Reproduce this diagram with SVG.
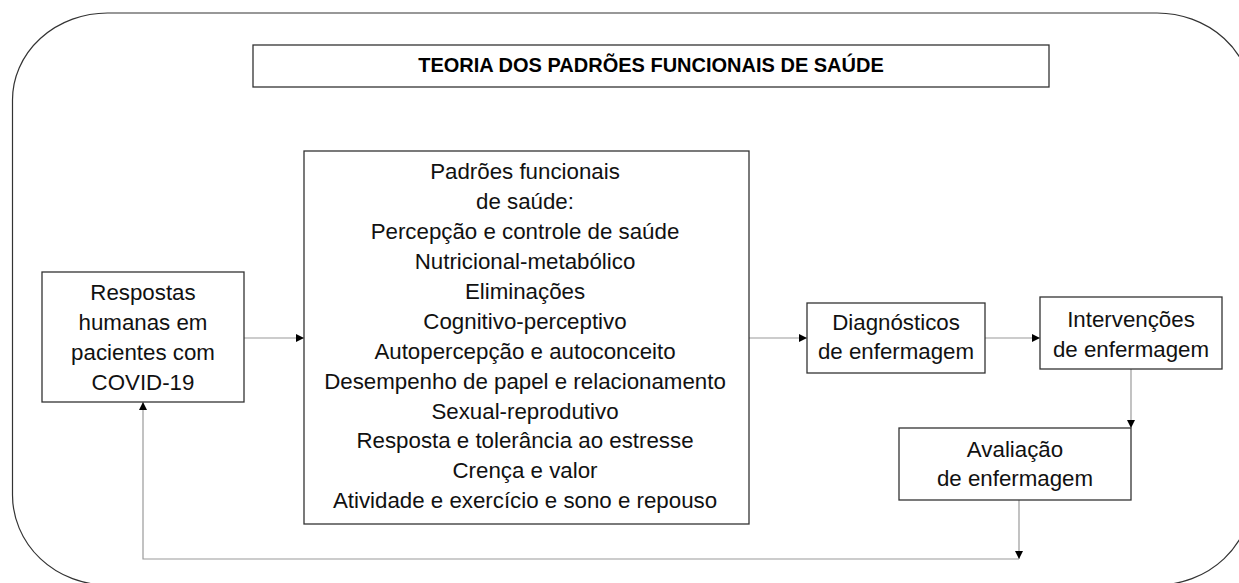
<svg xmlns="http://www.w3.org/2000/svg" width="1239" height="583" viewBox="0 0 1239 583">
<style>
.box{fill:#fff;stroke:#333;stroke-width:1.3}
.t{font-family:"Liberation Sans",Arial,sans-serif;font-size:22.3px;fill:#111;text-anchor:middle}
.title{font-family:"Liberation Sans",Arial,sans-serif;font-size:20px;font-weight:bold;fill:#000;text-anchor:middle}
.c{fill:none;stroke:#9a9a9a;stroke-width:1.2}
</style>
<defs>
<marker id="ah" viewBox="0 0 10 10" refX="10" refY="5" markerWidth="9" markerHeight="8" markerUnits="userSpaceOnUse" orient="auto">
<path d="M0,0 L10,5 L0,10 Z" fill="#000"/>
</marker>
</defs>
<rect width="1239" height="583" fill="#fff"/>
<g id="frame">
<path d="M12.5,100 A95,87 0 0 1 107.5,13 L1157,13 A95,87 0 0 1 1252,100 L1252,495 A95,90 0 0 1 1157,585 L107.5,585 A95,90 0 0 1 12.5,495 Z" fill="none" stroke="#333" stroke-width="1.2"/>
</g>
<g id="title">
<rect class="box" x="253" y="45" width="796" height="42"/>
<text class="title" x="651" y="72">TEORIA DOS PADRÕES FUNCIONAIS DE SAÚDE</text>
</g>
<g id="connectors">
<line class="c" x1="244" y1="338" x2="304" y2="338" marker-end="url(#ah)"/>
<line class="c" x1="749" y1="338" x2="807" y2="338" marker-end="url(#ah)"/>
<line class="c" x1="985" y1="338" x2="1040" y2="338" marker-end="url(#ah)"/>
<line class="c" x1="1131" y1="369" x2="1131" y2="428" marker-end="url(#ah)"/>
<line class="c" x1="1019" y1="500" x2="1019" y2="559" marker-end="url(#ah)"/>
<polyline class="c" points="1019,559 143,559 143,402" marker-end="url(#ah)"/>
</g>
<g id="respostas">
<rect class="box" x="42" y="272" width="202" height="130"/>
<text class="t" x="143" y="300">Respostas</text>
<text class="t" x="143" y="330">humanas em</text>
<text class="t" x="143" y="360">pacientes com</text>
<text class="t" x="143" y="390">COVID-19</text>
</g>
<g id="padroes">
<rect class="box" x="304" y="151" width="445" height="373"/>
<text class="t" x="525" y="179">Padrões funcionais</text>
<text class="t" x="525" y="209">de saúde:</text>
<text class="t" x="525" y="239">Percepção e controle de saúde</text>
<text class="t" x="525" y="269">Nutricional-metabólico</text>
<text class="t" x="525" y="299">Eliminações</text>
<text class="t" x="525" y="329">Cognitivo-perceptivo</text>
<text class="t" x="525" y="359">Autopercepção e autoconceito</text>
<text class="t" x="525" y="389">Desempenho de papel e relacionamento</text>
<text class="t" x="525" y="419">Sexual-reprodutivo</text>
<text class="t" x="525" y="448">Resposta e tolerância ao estresse</text>
<text class="t" x="525" y="478">Crença e valor</text>
<text class="t" x="525" y="508">Atividade e exercício e sono e repouso</text>
</g>
<g id="diagnosticos">
<rect class="box" x="807" y="303" width="178" height="70"/>
<text class="t" x="896" y="330">Diagnósticos</text>
<text class="t" x="896" y="359">de enfermagem</text>
</g>
<g id="intervencoes">
<rect class="box" x="1040" y="297" width="182" height="72"/>
<text class="t" x="1131" y="327">Intervenções</text>
<text class="t" x="1131" y="357">de enfermagem</text>
</g>
<g id="avaliacao">
<rect class="box" x="899" y="428" width="232" height="72"/>
<text class="t" x="1015" y="457">Avaliação</text>
<text class="t" x="1015" y="486">de enfermagem</text>
</g>
</svg>
